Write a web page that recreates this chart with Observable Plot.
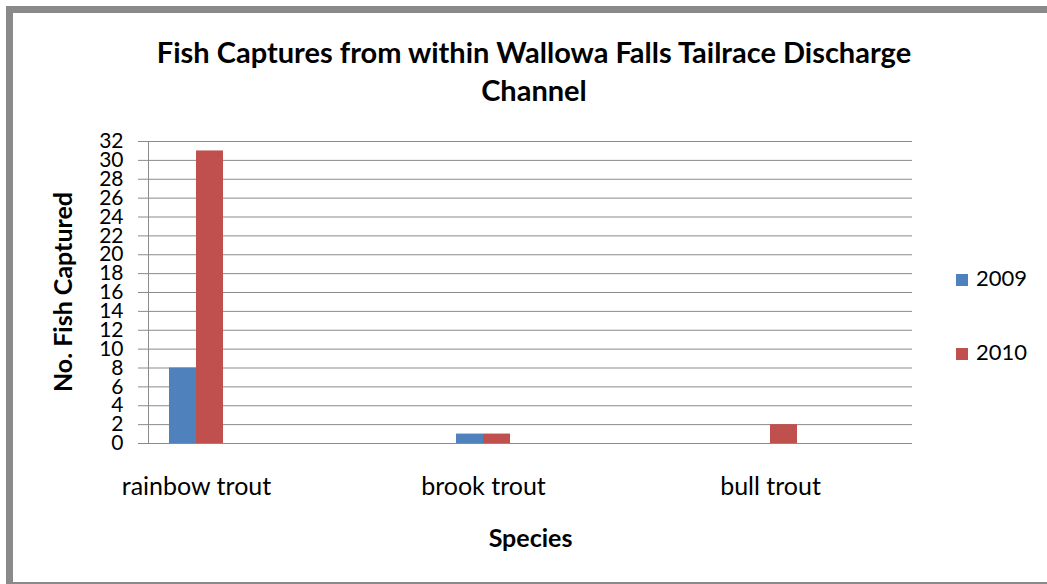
<!DOCTYPE html>
<html>
<head>
<meta charset="utf-8">
<script src="https://cdn.jsdelivr.net/npm/d3@7"></script>
<script src="https://cdn.jsdelivr.net/npm/@observablehq/plot@0.6"></script>
<style>
  html, body { margin: 0; padding: 0; background: #fff; }
  body { width: 1047px; height: 584px; overflow: hidden; position: relative; font-family: Lato, "Open Sans", sans-serif; }
  #border { position: absolute; left: 6px; top: 6px; width: 1200px; height: 569px;
    border-left: 7px solid #8a8a8a; border-top: 7px solid #8a8a8a; border-bottom: 2px solid #8a8a8a; }
  #title { position: absolute; left: 100px; width: 868px; top: 33px; text-align: center;
    font-weight: bold; font-size: 29px; line-height: 38px; color: #000; }
  #ylabel { position: absolute; left: 62px; top: 292px; transform: translate(-50%, -50%) rotate(-90deg);
    white-space: nowrap; font-weight: bold; font-size: 25px; line-height: 30px; color: #000; }
  #chart { position: absolute; left: 0; top: 0; }
  .leg { position: absolute; left: 956px; font-size: 22px; color: #000; line-height: 24px; }
  .leg span.sw { display: inline-block; width: 12px; height: 12px; margin-right: 8px; vertical-align: 0px; }
</style>
</head>
<body>
<div id="border"></div>
<div id="chart"></div>
<div id="title">Fish Captures from within Wallowa Falls Tailrace Discharge<br>Channel</div>
<div id="ylabel">No. Fish Captured</div>
<div class="leg" style="top:266px"><span class="sw" style="background:#4F81BD"></span>2009</div>
<div class="leg" style="top:340px"><span class="sw" style="background:#C0504D"></span>2010</div>
<script>
const species = ["rainbow trout", "brook trout", "bull trout"];
const years = ["2009", "2010"];
const values2009 = [8, 1, 0];
const values2010 = [31, 1, 2];
const yTicks = [0, 2, 4, 6, 8, 10, 12, 14, 16, 18, 20, 22, 24, 26, 28, 30, 32];

const data2009 = species.map((s, i) => ({species: s, year: years[0], value: values2009[i]}));
const data2010 = species.map((s, i) => ({species: s, year: years[1], value: values2010[i]}));

const grid = "#8a8a8a";
const chart = Plot.plot({
  width: 1047,
  height: 584,
  marginLeft: 148,
  marginRight: 135,
  marginTop: 141,
  marginBottom: 141,
  style: {fontFamily: "Lato, 'Open Sans', sans-serif", color: "#000", background: "transparent"},
  x: {domain: species, range: [169, 797], paddingInner: 0.812, paddingOuter: 0, align: 0, label: null},
  y: {domain: [0, 32], label: null},
  marks: [
    Plot.gridY(yTicks, {stroke: grid, strokeOpacity: 1, strokeWidth: 1}),
    Plot.frame({anchor: "left", stroke: grid, strokeWidth: 1}),
    Plot.barY(data2009, {x: "species", y: "value", fill: "#4F81BD", insetRight: 27}),
    Plot.barY(data2010, {x: "species", y: "value", fill: "#C0504D", insetLeft: 27}),
    Plot.axisY(yTicks, {tickSize: 10, tickPadding: 15, fontSize: 21, stroke: grid, label: null}),
    Plot.axisX({tickSize: 0, tickPadding: 34, fontSize: 25, label: null}),
    Plot.text(["Species"], {frameAnchor: "bottom", dy: 95, fontSize: 25, fontWeight: "bold", lineAnchor: "middle"})
  ]
});
document.getElementById("chart").appendChild(chart);
</script>
</body>
</html>
